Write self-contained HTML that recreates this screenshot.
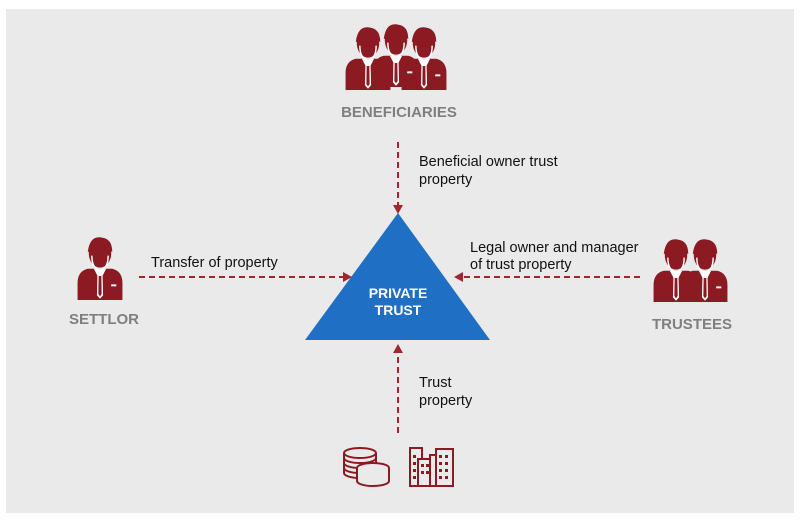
<!DOCTYPE html>
<html><head><style>
html,body{margin:0;padding:0;background:#fff;width:802px;height:528px;overflow:hidden}
svg{display:block}
text{font-family:"Liberation Sans",Arial,sans-serif}
</style></head><body>
<svg width="802" height="528" viewBox="0 0 802 528" xmlns="http://www.w3.org/2000/svg">
<defs>
<g id="p0">
  <path d="M-22,30 L-22,16 Q-22,6 -12,4 L12,4 Q22,6 22,16 L22,30 Z" fill="#8c1a22"/>
  <path d="M-6,4 L0,14 L6,4 Z" fill="#fff"/>
  <path d="M-2.5,8 L2.5,8 L3,26 L0,29 L-3,26 Z" fill="#fff"/>
  <path d="M-1.3,10 L1.3,10 L1.6,25 L0,27 L-1.6,25 Z" fill="#8c1a22"/>
  <rect x="11" y="17" width="5" height="1.6" fill="#fff"/>
  <ellipse cx="0" cy="-9" rx="11" ry="12" fill="#8c1a22"/>
  <path d="M-8,-7 Q-8,4 0,5 Q8,4 8,-7" fill="none" stroke="#fff" stroke-width="1.4"/>
  <path d="M-12,-10 Q-10,-24 2,-22 Q12,-21 12,-10 Q6,-13 -4,-16 Q-8,-10 -12,-10 Z" fill="#8c1a22"/>
</g>
<g id="p"><use href="#p0" transform="scale(1.02 1.2)"/></g>
</defs>
<rect x="6" y="9" width="788" height="504" fill="#e9eae9"/>

<use href="#p" x="368" y="54"/>
<use href="#p" x="424" y="54"/>
<use href="#p" x="396" y="51"/>
<text x="399" y="117" font-size="15" font-weight="bold" fill="#7f7f7f" text-anchor="middle">BENEFICIARIES</text>

<use href="#p" x="100" y="264"/>
<text x="104" y="324" font-size="15" font-weight="bold" fill="#7f7f7f" text-anchor="middle">SETTLOR</text>

<use href="#p" x="676" y="266"/>
<use href="#p" x="705" y="266"/>
<text x="692" y="329" font-size="15" font-weight="bold" fill="#7f7f7f" text-anchor="middle">TRUSTEES</text>

<polygon points="398,213 305,340 490,340" fill="#1f6fc5"/>
<text x="398" y="298" font-size="14" font-weight="bold" fill="#fff" text-anchor="middle">PRIVATE</text>
<text x="398" y="315" font-size="14" font-weight="bold" fill="#fff" text-anchor="middle">TRUST</text>

<g stroke="#a3262e" stroke-width="2" stroke-dasharray="6,4" fill="none">
  <line x1="398" y1="142" x2="398" y2="206"/>
  <line x1="139" y1="277" x2="344" y2="277"/>
  <line x1="640" y1="277" x2="462" y2="277"/>
  <line x1="398" y1="433" x2="398" y2="352"/>
</g>
<g fill="#a3262e">
  <polygon points="393,205 403,205 398,214"/>
  <polygon points="343,272 343,282 352,277"/>
  <polygon points="463,272 463,282 454,277"/>
  <polygon points="393,353 403,353 398,344"/>
</g>

<g font-size="14.5" fill="#111">
  <text x="419" y="166">Beneficial owner trust</text>
  <text x="419" y="184">property</text>
  <text x="151" y="267">Transfer of property</text>
  <text x="470" y="252">Legal owner and manager</text>
  <text x="470" y="269">of trust property</text>
  <text x="419" y="387">Trust</text>
  <text x="419" y="405">property</text>
</g>

<g fill="none" stroke="#8c1a22" stroke-width="2">
  <ellipse cx="360" cy="453" rx="16" ry="5"/>
  <path d="M344,453 v5 a16,5 0 0 0 32,0 v-5"/>
  <path d="M344,458 v5 a16,5 0 0 0 32,0 v-5"/>
  <path d="M344,463 v5 a16,5 0 0 0 32,0"/>
  <path d="M344,468 v5 a16,5 0 0 0 32,0 v-5"/>
  <ellipse cx="373" cy="468" rx="16" ry="5" fill="#e9eae9"/>
  <path d="M357,468 v5 a16,5 0 0 0 32,0 v-5" fill="#e9eae9"/>
  <path d="M357,473 v5 a16,5 0 0 0 32,0 v-5" fill="#e9eae9"/>
  <path d="M357,478 v3 a16,5 0 0 0 32,0 v-3" fill="#e9eae9"/>
</g>
<g fill="none" stroke="#8c1a22" stroke-width="2">
  <rect x="410" y="448" width="12" height="38"/>
  <rect x="418" y="459" width="14" height="27" fill="#e9eae9"/>
  <rect x="430" y="455" width="12" height="31" fill="#e9eae9"/>
  <rect x="436" y="449" width="17" height="37" fill="#e9eae9"/>
</g>
<g fill="#8c1a22">
  <rect x="413" y="455" width="3" height="3"/><rect x="413" y="462" width="3" height="3"/><rect x="413" y="469" width="3" height="3"/><rect x="413" y="476" width="3" height="3"/>
  <rect x="421" y="464" width="3" height="3"/><rect x="426" y="464" width="3" height="3"/><rect x="421" y="471" width="3" height="3"/><rect x="426" y="471" width="3" height="3"/>
  <rect x="439" y="455" width="3" height="3"/><rect x="445" y="455" width="3" height="3"/><rect x="439" y="462" width="3" height="3"/><rect x="445" y="462" width="3" height="3"/><rect x="439" y="469" width="3" height="3"/><rect x="445" y="469" width="3" height="3"/><rect x="439" y="476" width="3" height="3"/><rect x="445" y="476" width="3" height="3"/>
</g>
</svg>
</body></html>
